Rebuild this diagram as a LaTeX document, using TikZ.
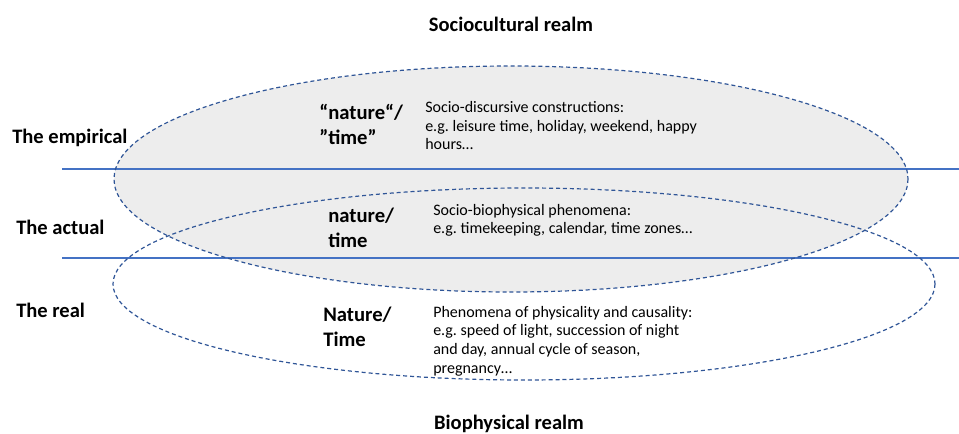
\documentclass[tikz,border=0pt]{standalone}
\usepackage{fontspec}
\setmainfont{Carlito}
\usepackage{xcolor}
\usetikzlibrary{positioning}
\frenchspacing
\definecolor{ringblue}{HTML}{2F5597}
\definecolor{lineblue}{HTML}{4472C4}
\definecolor{realmgray}{HTML}{EDEDED}
\tikzset{
    realm/.style={font=\fontsize{15.4pt}{18pt}\selectfont\bfseries, anchor=base, inner sep=0pt},
    stratum/.style={font=\fontsize{15.4pt}{18pt}\selectfont\bfseries, anchor=base west, inner sep=0pt},
    concept/.style={font=\fontsize{15.5pt}{18.75pt}\selectfont\bfseries, align=left, anchor=base west, inner sep=0pt},
    example/.style={font=\fontsize{12pt}{14pt}\selectfont, align=left, anchor=base west, inner sep=0pt},
    ring/.style={draw=ringblue, dashed, dash pattern=on 3pt off 2.2pt, line width=0.9pt},
    divider/.style={draw=lineblue, line width=0.9pt}
}
\begin{document}
\begin{tikzpicture}[x=0.75pt, y=-0.75pt]
                    \useasboundingbox (0,0) rectangle (959,434);
                    % shaded realm and dividers
                    \fill[realmgray] (511,179) ellipse [x radius=397, y radius=113];
                    \coordinate (top-l) at (62,169);
                    \coordinate (top-r) at (959,169);
                    \coordinate (bot-l) at (62,258);
                    \coordinate (bot-r) at (959,258);
                    \draw[divider] (top-l) -- (top-r);
                    \draw[divider] (bot-l) -- (bot-r);
                    \draw[ring] (511,179) ellipse [x radius=397, y radius=113];
                    \draw[ring] (524,284) ellipse [x radius=411, y radius=96];
                    % realms
                    \node[realm] (socio) at (511,32) {Sociocultural realm};
                    \node[realm] (bio) at (509,429) {Biophysical realm};
                    % strata
                    \node[stratum] (empirical) at (12,144) {The empirical};
                    \node[stratum] (actual) at (16,235) {The actual};
                    \node[stratum] (real) at (16,318) {The real};
                    % concepts (anchored at the last line)
                    \node[concept] (quoted) at (319,145) {“nature“/\\”time”};
                    \node[concept] (plain) at (328,248) {nature/\\time};
                    \node[concept] (capital) at (323,346) {Nature/\\Time};
                    % examples
                    \node[example] (discursive) at (425,150) {Socio-discursive constructions:\\e.g. leisure time, holiday, weekend, happy\\hours…};
                    \node[example] (biophys) at (433,234) {Socio-biophysical phenomena:\\e.g. timekeeping, calendar, time zones…};
                    \node[example] (physical) at (433,373) {Phenomena of physicality and causality:\\e.g. speed of light, succession of night\\and day, annual cycle of season,\\pregnancy…};
                \end{tikzpicture}
\end{document}
